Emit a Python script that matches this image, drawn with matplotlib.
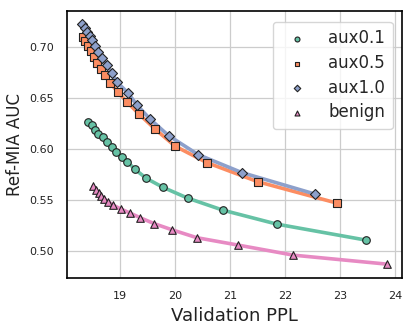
import matplotlib
matplotlib.use("Agg")
import matplotlib.pyplot as plt
import seaborn as sns

# values (Validation PPL, Ref-MIA AUC)
aux01_ppl = [18.424, 18.485, 18.545, 18.605, 18.685, 18.758, 18.849, 18.927, 19.031,
             19.133, 19.273, 19.478, 19.782, 20.227, 20.867, 21.849, 23.473]
aux01_auc = [0.6268, 0.6235, 0.6186, 0.6147, 0.6115, 0.6072, 0.6023, 0.5974, 0.5925,
             0.5875, 0.5801, 0.5713, 0.5625, 0.5520, 0.5402, 0.5265, 0.5108]

aux05_ppl = [18.318, 18.364, 18.409, 18.464, 18.518, 18.582, 18.645, 18.727, 18.818,
             18.964, 19.127, 19.345, 19.636, 20.000, 20.576, 21.500, 22.940]
aux05_auc = [0.7098, 0.7059, 0.7010, 0.6961, 0.6902, 0.6843, 0.6784, 0.6725, 0.6647,
             0.6559, 0.6461, 0.6343, 0.6196, 0.6029, 0.5868, 0.5681, 0.5471]

aux10_ppl = [18.309, 18.364, 18.400, 18.445, 18.491, 18.545, 18.600, 18.673, 18.764,
             18.855, 18.945, 19.145, 19.309, 19.545, 19.882, 20.418, 21.213, 22.545]
aux10_auc = [0.7221, 0.7186, 0.7147, 0.7108, 0.7069, 0.7010, 0.6951, 0.6892, 0.6824,
             0.6745, 0.6657, 0.6549, 0.6431, 0.6294, 0.6132, 0.5946, 0.5770, 0.5559]

benign_ppl = [18.509, 18.564, 18.609, 18.655, 18.709, 18.782, 18.873, 19.018, 19.182,
              19.364, 19.618, 19.936, 20.395, 21.151, 22.151, 23.849]
benign_auc = [0.5637, 0.5598, 0.5569, 0.5544, 0.5515, 0.5485, 0.5451, 0.5412, 0.5373,
              0.5328, 0.5270, 0.5211, 0.5132, 0.5059, 0.4961, 0.4873]

sns.set_style("whitegrid")
plt.rcParams['font.family'] = ['DejaVu Sans']

pal = sns.color_palette("Set2")
series = [
    ("aux0.1", aux01_ppl, aux01_auc, "o", pal[0]),
    ("aux0.5", aux05_ppl, aux05_auc, "s", pal[1]),
    ("aux1.0", aux10_ppl, aux10_auc, "D", pal[2]),
    ("benign", benign_ppl, benign_auc, "^", pal[3]),
]

fig = plt.figure(figsize=(4.15, 3.32), dpi=100)
ax = fig.add_axes([0.162, 0.162, 0.806, 0.805])

for label, xs, ys, mk, col in series:
    ax.plot(xs, ys, color=col, linewidth=2.6, zorder=2)
    ax.scatter(xs, ys, marker=mk, color=col, edgecolor="#222222", linewidth=0.8,
               s=30 if mk != "D" else 26, label=label, zorder=3)

ax.set_xlim(18.04, 24.12)
ax.set_ylim(0.4735, 0.7353)
ax.set_xticks([19, 20, 21, 22, 23, 24])
ax.set_yticks([0.50, 0.55, 0.60, 0.65, 0.70])
ax.set_yticklabels(["0.50", "0.55", "0.60", "0.65", "0.70"])
ax.tick_params(labelsize=8, colors="#222222", pad=6)

ax.set_xlabel("Validation PPL", fontsize=13, color="#222222")
ax.set_ylabel("Ref-MIA AUC", fontsize=12, color="#222222")

for sp in ax.spines.values():
    sp.set_color("black")
    sp.set_linewidth(1.2)
ax.grid(color="#cccccc", linewidth=0.9)

ax.legend(loc="upper right", fontsize=12, markerscale=0.65, frameon=True,
          handletextpad=0.9, borderpad=0.45, labelspacing=0.4,
          bbox_to_anchor=(0.998, 0.99))

fig.savefig("out.png", dpi=100)
